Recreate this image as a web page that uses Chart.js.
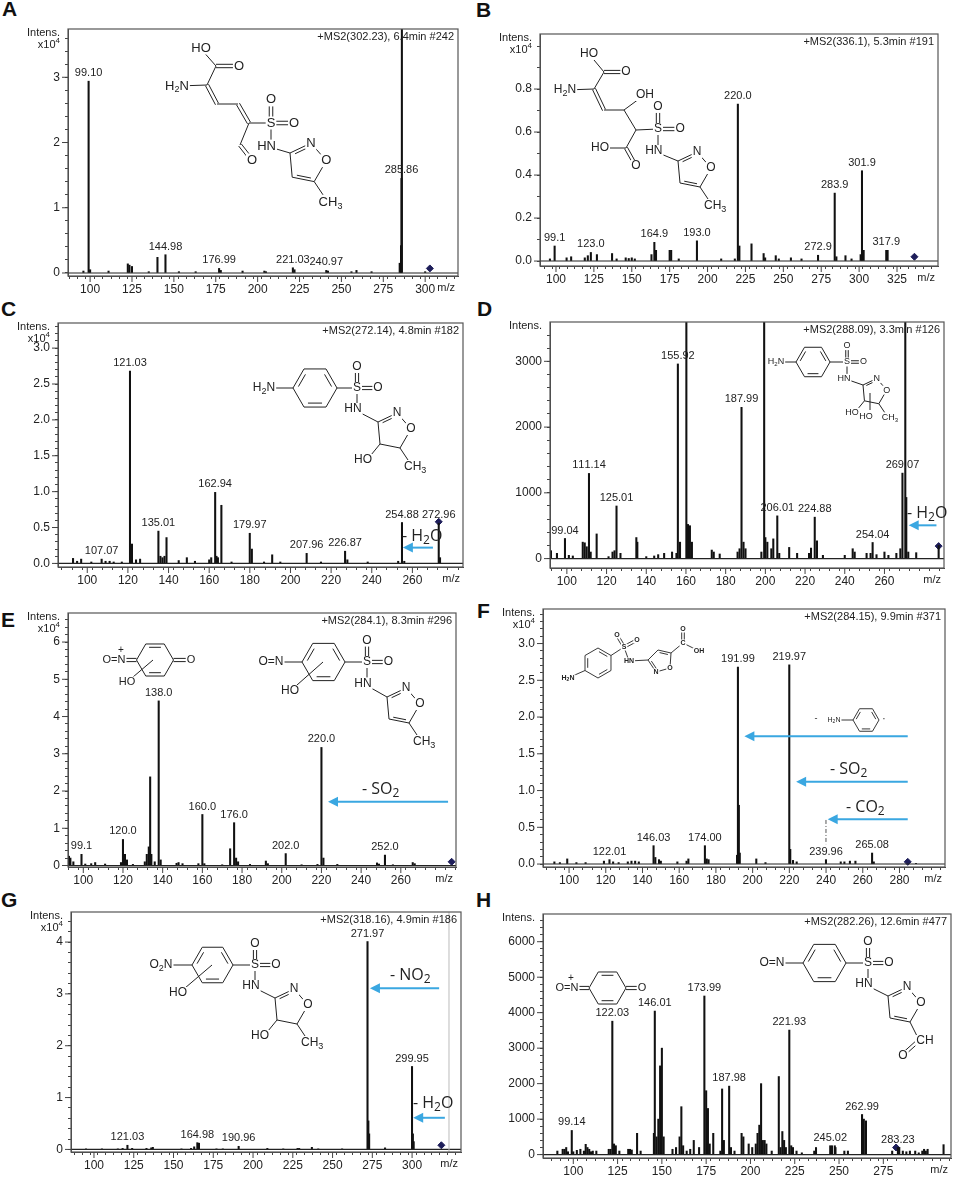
<!DOCTYPE html>
<html>
<head>
<meta charset="utf-8">
<script src="https://cdn.jsdelivr.net/npm/chart.js@4.4.1/dist/chart.umd.min.js"></script>
<style>
  body { margin: 0; background: #fff; width: 962px; height: 1180px; position: relative; overflow: hidden; }
  .p { position: absolute; width: 481px; height: 295px; }
  .lt { position: absolute; font: bold 21px "Liberation Sans", Arial, sans-serif; line-height: 1; color: #111; }
</style>
</head>
<body>
<div class="lt" style="left:2px;top:-2px">A</div>
<div class="lt" style="left:476px;top:-1px">B</div>
<div class="lt" style="left:1px;top:298px">C</div>
<div class="lt" style="left:477px;top:298px">D</div>
<div class="lt" style="left:1px;top:609px">E</div>
<div class="lt" style="left:477px;top:600px">F</div>
<div class="lt" style="left:1px;top:889px">G</div>
<div class="lt" style="left:476px;top:889px">H</div>
<script>
// ---- spectra: [m/z, intensity] (A,B,C,E,F,G in x10^4, D and H in counts)
const specA = [[96,0.03],[99.10,2.94],[100,0.05],[111,0.03],[122.5,0.14],[123.5,0.12],[125,0.1],[135,0.02],[140.2,0.24],[144.98,0.28],
  [153,0.02],[163,0.02],[176.99,0.07],[178,0.04],[191,0.03],[204,0.03],[205,0.02],[221.03,0.08],[222,0.05],[240.97,0.04],
  [242,0.03],[256,0.02],[259,0.04],[268,0.02],[284.8,0.15],[285.6,0.42],[285.86,1.45],[286.1,4.0],[300,0.02]];
const specB = [[96,0.01],[99.1,0.07],[107,0.015],[110,0.02],[119,0.015],[121,0.025],[123.0,0.04],[127,0.03],[137,0.035],[140,0.01],
  [146,0.015],[148,0.012],[150,0.015],[152,0.01],[163,0.03],[164.9,0.087],[166,0.05],[175,0.05],[176,0.05],[181,0.01],
  [193.0,0.094],[209,0.01],[218,0.01],[220.0,0.73],[221,0.07],[229,0.08],[237,0.035],[238,0.015],[245,0.025],[247,0.01],
  [255,0.015],[262,0.01],[272.9,0.027],[283.9,0.316],[285,0.02],[291,0.025],[295,0.01],[301,0.03],[301.9,0.42],[303,0.05],
  [317.9,0.05],[318.8,0.05]];
const specC = [[93,0.07],[95,0.03],[97,0.06],[102,0.02],[107.07,0.06],[109,0.03],[111,0.03],[113,0.02],[117,0.02],[121.03,2.68],
  [122,0.27],[124,0.05],[126,0.06],[135.01,0.45],[136,0.1],[137,0.08],[138,0.1],[139,0.36],[145,0.04],[149,0.08],
  [153,0.03],[160,0.05],[161,0.08],[162.94,0.99],[163.6,0.1],[164.3,0.08],[166,0.81],[171,0.02],[179.97,0.42],[181,0.2],
  [187,0.02],[191,0.12],[195,0.02],[207.96,0.14],[215,0.02],[226.87,0.17],[228,0.05],[238,0.02],[253,0.03],[254.88,0.57],
  [256,0.03],[272.96,0.56],[273.6,0.08]];
const specD = [[92,120],[95,80],[99.04,306],[101,50],[103,40],[108,250],[109,240],[110,180],[111.14,1295],[112,100],
  [115,375],[121,30],[123,100],[124,120],[125.01,800],[127,80],[135,320],[135.5,250],[140,30],[144,40],
  [146,60],[149,80],[153,100],[155.2,80],[155.92,2960],[157,250],[160.2,4000],[161,520],[162,500],[163,250],
  [173,130],[174,100],[177,70],[186,100],[187,150],[187.99,2300],[189,250],[190,150],[198,100],[199.4,4000],
  [200,320],[201,250],[203,150],[204,300],[206.01,650],[207,80],[212,170],[216,80],[222,80],[223,160],
  [224.88,630],[226,270],[229,50],[240,50],[244,150],[245,100],[251,80],[253,80],[254.04,245],[256,60],
  [260,100],[262,50],[266,80],[268,150],[269.07,1300],[270.5,4000],[271,930],[272,100],[276,90],[287.3,200]];
const specE = [[92.8,0.25],[93.5,0.2],[95,0.1],[99.1,0.3],[101,0.04],[104,0.05],[106,0.08],[111,0.04],[119,0.08],[120.0,0.70],
  [121,0.3],[122,0.15],[125,0.03],[131,0.1],[132,0.3],[133,0.5],[133.7,2.38],[134.3,0.3],[136,0.1],[138.0,4.42],
  [139,0.15],[147,0.06],[148,0.08],[150,0.05],[158,0.05],[160.0,1.37],[161,0.05],[170,0.02],[174,0.45],[176.0,1.15],
  [177,0.2],[178,0.1],[184,0.03],[192,0.12],[193,0.05],[202.0,0.32],[210,0.02],[218,0.03],[220.0,3.17],[221,0.2],
  [228,0.03],[248,0.07],[249,0.04],[252.0,0.28],[256,0.02],[266,0.08],[267,0.05]];
const specF = [[92,0.03],[95,0.02],[99,0.07],[104,0.02],[109,0.02],[119,0.04],[122.01,0.06],[124,0.03],[127,0.02],[132,0.03],
  [134,0.04],[136,0.04],[138,0.03],[146.03,0.25],[147,0.09],[149,0.06],[150,0.04],[159,0.03],[164,0.04],[165,0.07],
  [174.00,0.25],[175,0.07],[176,0.06],[191.5,0.12],[191.99,2.68],[192.5,0.8],[193,0.15],[202,0.07],[207,0.02],[219.97,2.71],
  [220.5,0.2],[222,0.05],[224,0.03],[239.96,0.06],[248,0.03],[250,0.03],[253,0.04],[256,0.04],[265.08,0.15],[266,0.03],
  [289,0.01]];
const specG = [[95,0.01],[105,0.01],[115,0.01],[118,0.02],[121.03,0.08],[124,0.02],[133,0.02],[136,0.03],[137,0.04],[155,0.01],
  [161,0.02],[163,0.05],[164.98,0.13],[166,0.12],[177,0.01],[181,0.01],[190.96,0.06],[209,0.02],[219,0.01],[228,0.02],
  [229,0.02],[237,0.04],[241,0.01],[256,0.01],[271.97,4.01],[272.5,0.55],[273,0.3],[283,0.03],[299.95,1.6],[300.5,0.3],
  [301,0.15]];
const specH = [[91,100],[94,150],[95,150],[96,200],[97,80],[99.14,680],[100,80],[102,120],[104,150],[106,100],
  [107,290],[108,200],[109,150],[110,80],[111,100],[113,100],[120,150],[121,150],[122.03,3760],[123,300],
  [124,250],[126,100],[131,150],[132,150],[133,130],[136,600],[138,100],[145.5,600],[146.01,4045],[147,500],
  [148,1000],[149,2500],[150,3000],[151,500],[156,150],[158,200],[160,500],[161,1350],[162,250],[164,100],
  [166,150],[168,400],[171,200],[173.99,4470],[175,1800],[176,1300],[177,300],[179,600],[183,100],[184,1850],
  [185,400],[187.98,1930],[189,200],[191,100],[195,600],[196,500],[199,300],[201,200],[203,300],[204,600],
  [205,830],[206,2000],[207,400],[208,400],[209,300],[212,100],[216,2200],[217,200],[218,650],[219,400],
  [220,200],[221.93,3510],[223,250],[224,200],[226,100],[229,50],[236,100],[237,200],[245.02,250],[246,250],
  [247.6,250],[248,200],[253,100],[255,100],[262.99,1130],[264,1000],[265.2,950],[280,100],[283.23,200],[284,200],
  [286,100],[288,80],[290,100],[293,100],[295,50],[297,100],[298,150],[299,100],[300,150],[309,280]];

// ---- peak labels
const labA = ['99.10','144.98','176.99','221.03','240.97','285.86'];
const labB = ['99.1','123.0','164.9','193.0','220.0','272.9','283.9','301.9','317.9'];
const labC = ['107.07','121.03','135.01','162.94','179.97','207.96','226.87','254.88','272.96'];
const labD = ['99.04','111.14','125.01','155.92','187.99','206.01','224.88','254.04','269.07'];
const labE = ['99.1','120.0','138.0','160.0','176.0','202.0','220.0','252.0'];
const labF = ['122.01','146.03','174.00','191.99','219.97','239.96','265.08'];
const labG = ['121.03','164.98','190.96','271.97','299.95'];
const labH = ['99.14','122.03','146.01','173.99','187.98','221.93','245.02','262.99','283.23'];

// ---- precursor markers
const precA = [302.8, 0.07], precB = [336.5, 0.02], precC = [272.96, 0.58], precD = [287.3, 190];
const precE = [285.6, 0.1], precF = [284.5, 0.03], precG = [318.4, 0.08], precH = [282.2, 200];

// ---- tick labels
const xTicksA = [100,125,150,175,200,225,250,275,300];
const xTicksB = [100,125,150,175,200,225,250,275,300,325];
const xTicksC = [100,120,140,160,180,200,220,240,260];
const xTicksD = [100,120,140,160,180,200,220,240,260];
const xTicksE = [100,120,140,160,180,200,220,240,260];
const xTicksF = [100,120,140,160,180,200,220,240,260,280];
const xTicksG = [100,125,150,175,200,225,250,275,300];
const xTicksH = [100,125,150,175,200,225,250,275];
const yTicksA = [0,1,2,3];
const yTicksB = [0,0.2,0.4,0.6,0.8];
const yTicksC = [0,0.5,1,1.5,2,2.5,3];
const yTicksD = [0,1000,2000,3000];
const yTicksE = [0,1,2,3,4,5,6];
const yTicksF = [0,0.5,1,1.5,2,2.5,3];
const yTicksG = [0,1,2,3,4];
const yTicksH = [0,1000,2000,3000,4000,5000,6000];

const titles = ['+MS2(302.23), 6.4min #242','+MS2(336.1), 5.3min #191','+MS2(272.14), 4.8min #182','+MS2(288.09), 3.3min #126',
  '+MS2(284.1), 8.3min #296','+MS2(284.15), 9.9min #371','+MS2(318.16), 4.9min #186','+MS2(282.26), 12.6min #477'];

const FONT = '"Liberation Sans", Arial, sans-serif';
const ANN = '"Open Sans", "Liberation Sans", sans-serif';
const BLUE = '#3aa7e1';
const INK = '#222';

// ---- drawing helpers
function ln(c, a, b) { c.beginPath(); c.moveTo(a[0], a[1]); c.lineTo(b[0], b[1]); c.stroke(); }
function dbl(c, a, b, o) {
  const dx = b[0]-a[0], dy = b[1]-a[1], l = Math.hypot(dx, dy), nx = -dy/l*o, ny = dx/l*o;
  ln(c, [a[0]+nx, a[1]+ny], [b[0]+nx, b[1]+ny]); ln(c, [a[0]-nx, a[1]-ny], [b[0]-nx, b[1]-ny]);
}
function inner(c, a, b, ctr, o) {
  const mx = (a[0]+b[0])/2, my = (a[1]+b[1])/2;
  let dx = ctr[0]-mx, dy = ctr[1]-my; const l = Math.hypot(dx, dy); dx = dx/l*o; dy = dy/l*o;
  const s = 0.18, ex = b[0]-a[0], ey = b[1]-a[1];
  ln(c, [a[0]+ex*s+dx, a[1]+ey*s+dy], [b[0]-ex*s+dx, b[1]-ey*s+dy]);
}
function hex(c, cx, cy, r, rot, dbls) {
  const v = [];
  for (let k = 0; k < 6; k++) { const a = (rot + 60*k) * Math.PI/180; v.push([cx + r*Math.cos(a), cy + r*Math.sin(a)]); }
  for (let k = 0; k < 6; k++) ln(c, v[k], v[(k+1)%6]);
  dbls.forEach(k => inner(c, v[k], v[(k+1)%6], [cx, cy], r*0.18));
  return v;
}
function chem(c, s, x, y, size, align, bg, fam, wt) {
  fam = fam || FONT;
  const parts = [];
  for (let i = 0; i < s.length; i++) {
    const ch = s[i];
    if (ch === '_' && i+1 < s.length) parts.push({t: s[++i], k: 1});
    else if (ch === '^' && i+1 < s.length) parts.push({t: s[++i], k: 2});
    else parts.push({t: ch, k: 0});
  }
  let w = 0;
  parts.forEach(p => { p.f = (wt ? wt + ' ' : '') + (p.k ? Math.round(size*0.72) : size) + 'px ' + fam; c.font = p.f; p.w = c.measureText(p.t).width; w += p.w; });
  let x0 = align === 'left' ? x : align === 'right' ? x - w : x - w/2;
  if (bg) { c.fillStyle = '#fff'; c.fillRect(x0-1, y-size*0.5, w+2, size); }
  c.fillStyle = INK; c.textBaseline = 'middle'; c.textAlign = 'left';
  parts.forEach(p => { c.font = p.f; c.fillText(p.t, x0, y + (p.k === 1 ? size*0.3 : p.k === 2 ? -size*0.38 : 0)); x0 += p.w; });
}
let Q = [];
function at(s, x, y, fs, al, wt) { Q.push([s, x, y, fs, al || 'center', wt]); }
function flush(c) { Q.forEach(q => chem(c, q[0], q[1], q[2], q[3], q[4], true, FONT, q[5])); Q = []; }
function sulf(c, S, k, fs) {
  const Ou = [S[0], S[1]-21*k], Or = [S[0]+21*k, S[1]], HN = [S[0]-4*k, S[1]+21*k];
  dbl(c, S, Ou, 1.6*k); dbl(c, S, Or, 1.6*k); ln(c, S, [S[0], HN[1]]);
  at('S', S[0], S[1], fs); at('O', Ou[0], Ou[1], fs); at('O', Or[0], Or[1], fs); at('HN', HN[0], HN[1], fs);
  return HN;
}
function isox(c, p, k, fs, opt) {
  const P = (dx, dy) => [p[0]+dx*k, p[1]+dy*k];
  const N = P(19,-9), O = P(33,7), C5 = P(22,26), C4 = P(2,22), m = P(16,8);
  ln(c, p, N); inner(c, p, N, m, 2.6*k); ln(c, N, O); ln(c, O, C5); ln(c, C5, C4); ln(c, C4, p);
  if (opt.arom) inner(c, C5, C4, m, 2.6*k);
  at('N', N[0], N[1], fs); at('O', O[0], O[1], fs);
  if (opt.me) { ln(c, C5, P(30,38)); at('CH_3', C5[0]+4*k, C5[1]+19*k, fs, 'left'); }
  if (opt.oh) { ln(c, C4, P(-7,33)); at('HO', C4[0]-8*k, C4[1]+16*k, fs, 'right'); }
  return {N, O, C5, C4};
}
function arrow(c, x1, x2, y) {
  c.strokeStyle = BLUE; c.fillStyle = BLUE; c.lineWidth = 2;
  ln(c, [x1, y], [x2+8, y]);
  c.beginPath(); c.moveTo(x2, y); c.lineTo(x2+10, y-5); c.lineTo(x2+10, y+5); c.closePath(); c.fill();
}

// ---- structures (panel pixel coordinates)
function structA(c) {
  const fs = 13, k = 1.1;
  const Cc = [216,66], Ca = [207,85], C3 = [217,104], C4 = [238,104], C5 = [249,123], S = [271,123], Cal = [240,145], R = [290,153];
  ln(c, [201,49], Cc); dbl(c, Cc, [238,66], 1.7); ln(c, Cc, Ca); ln(c, Ca, [178,86]);
  dbl(c, Ca, C3, 1.7); ln(c, C3, C4); dbl(c, C4, C5, 1.7); ln(c, C5, S);
  const HN = sulf(c, S, k, fs); ln(c, HN, R); ln(c, C5, Cal); dbl(c, Cal, [251,159], 1.7);
  isox(c, R, k, fs, {arom: 1, me: 1});
  at('HO', 201, 48, fs); at('O', 239, 66, fs); at('H_2N', 177, 86, fs); at('O', 252, 160, fs);
  flush(c);
}
function structB(c) {
  const fs = 12, k = 1.05;
  const Cc = [123,72], Ca = [113,89], Cb = [123,110], Cc2 = [143,110], Cd = [155,130], S = [177,129], Ce = [145,148], R = [197,161];
  ln(c, [108,54], Cc); dbl(c, Cc, [145,72], 1.6); ln(c, Cc, Ca); ln(c, Ca, [84,90]); dbl(c, Ca, Cb, 1.6);
  ln(c, Cb, Cc2); ln(c, Cc2, [162,96]); ln(c, Cc2, Cd); ln(c, Cd, S); ln(c, Cd, Ce); ln(c, Ce, [119,148]); dbl(c, Ce, [155,166], 1.6);
  const HN = sulf(c, S, k, fs); ln(c, HN, R); isox(c, R, 1, fs, {arom: 1, me: 1});
  at('HO', 108, 54, fs); at('O', 145, 72, fs); at('H_2N', 84, 90, fs); at('OH', 164, 95, fs); at('HO', 119, 148, fs); at('O', 155, 166, fs);
  flush(c);
}
function structC(c) {
  const fs = 12;
  const v = hex(c, 315, 93, 22, 0, [1,3,5]);
  ln(c, [264,93], v[3]); ln(c, v[0], [357,93]);
  const HN = sulf(c, [357,93], 1, fs); ln(c, HN, [378,127]);
  isox(c, [378,127], 1, fs, {oh: 1, me: 1});
  at('H_2N', 264, 93, fs);
  flush(c);
}
function structD(c) {
  const fs = 9;
  const v = hex(c, 332, 67, 17, 0, [1,3,5]);
  ln(c, [295,67], v[3]); ln(c, v[0], [366,67]);
  const HN = sulf(c, [366,67], 0.78, fs); ln(c, HN, [382,90]);
  isox(c, [382,90], 0.72, fs, {oh: 1, me: 1});
  ln(c, [389,98], [389,115]); at('HO', 385, 122, fs);
  at('H_2N', 295, 67, fs);
  flush(c);
}
function structE(c) {
  // quinone-like fragment
  let v = hex(c, 155, 70, 18.5, 0, [1,4]);
  dbl(c, [123,70], v[3], 1.6); dbl(c, v[0], [190,70], 1.6); ln(c, [133,87], [153,70]);
  at('O=N', 114, 70, 11); at('+', 121, 60, 10); at('O', 191, 70, 11); at('HO', 127, 92, 11);
  // parent
  v = hex(c, 323.5, 72, 21.5, 0, [1,3,5]);
  ln(c, [271,72], v[3]); ln(c, v[0], [367,72]); ln(c, [297,95], [323,72]);
  const HN = sulf(c, [367,72], 1.02, 12); ln(c, HN, [387,107]);
  isox(c, [387,107], 1, 12, {arom: 1, me: 1});
  at('O=N', 271, 72, 12); at('HO', 290, 101, 12);
  flush(c);
}
function structF(c) {
  const fs = 7, b = 'bold';
  c.lineWidth = 0.9;
  const v = hex(c, 117, 73, 15, -90, [0,2,4]);
  const S = [143,57], C3 = [167,70], N = [175,82], O = [189,78], C5 = [190,63], C4 = [177,60], Cx = [202,53];
  ln(c, v[4], [87,88]); ln(c, v[1], S); dbl(c, S, [136,45], 1.3); dbl(c, S, [156,50], 1.3); ln(c, S, [148,71]); ln(c, [148,71], C3);
  ln(c, C3, N); inner(c, C3, N, [180,71], 2.2); ln(c, N, O); ln(c, O, C5); ln(c, C5, C4); inner(c, C5, C4, [180,71], 2.2); ln(c, C4, C3);
  ln(c, C5, Cx); dbl(c, Cx, [202,39], 1.3); ln(c, Cx, [218,61]);
  at('H_2N', 87, 88, fs, 'center', b); at('S', 143, 57, fs, 'center', b); at('O', 136, 45, fs, 'center', b); at('O', 156, 50, fs, 'center', b);
  at('HN', 148, 71, fs, 'center', b); at('N', 175, 82, fs, 'center', b); at('O', 189, 78, fs, 'center', b); at('C', 202, 53, fs, 'center', b);
  at('O', 202, 39, fs, 'center', b); at('OH', 218, 61, fs, 'center', b);
  // lost fragment icon
  const w = hex(c, 385, 130, 13, 0, [1,3,5]);
  ln(c, [356,130], w[3]);
  at('-', 335, 129, 9); at('H_2N', 353, 130, fs); at('\u00b7', 403, 129, 10);
  flush(c);
}
function structG(c) {
  const fs = 12;
  const v = hex(c, 212.5, 80, 20.5, 0, [1,3,5]);
  ln(c, [161,80], v[3]); ln(c, v[0], [255,80]); ln(c, [185,103], [212,80]);
  const HN = sulf(c, [255,80], 1, fs); ln(c, HN, [275,113]);
  isox(c, [275,113], 1, fs, {oh: 1, me: 1});
  at('O_2N', 161, 80, fs); at('HO', 178, 108, fs);
  flush(c);
}
function structH(c) {
  let v = hex(c, 126.5, 103, 18.5, 0, [1,4]);
  dbl(c, [95,103], v[3], 1.6); dbl(c, v[0], [160,103], 1.6);
  at('O=N', 86, 103, 11); at('+', 90, 93, 10); at('O', 161, 103, 11);
  v = hex(c, 343.5, 78, 21.5, 0, [1,3,5]);
  ln(c, [291,78], v[3]); ln(c, v[0], [387,78]);
  const HN = sulf(c, [387,78], 1, 12); ln(c, HN, [407,111]);
  const r = isox(c, [407,111], 1, 12, {arom: 1});
  ln(c, r.C5, [437,153]); dbl(c, [435,158], [425,167], 1.6);
  at('CH', 444, 156, 12); at('O', 422, 171, 12); at('O=N', 291, 78, 12);
  flush(c);
}

// ---- panels
const panels = [
  {pos:[0,0], fr:[68,29,458,276], x:[86.8,319.6], y:[-0.046,3.74], spec:specA, lab:labA, prec:precA, xt:xTicksA, yt:yTicksA, ys:0.2, yd:0, exp:1, draw:structA},
  {pos:[481,0], fr:[59,34,457,266], x:[89.45,352.05], y:[-0.023,1.056], spec:specB, lab:labB, prec:precB, xt:xTicksB, yt:yTicksB, ys:0.1, yd:1, exp:1, draw:structB},
  {pos:[0,295], fr:[58,28,463,272], x:[85.6,284.9], y:[-0.05,3.35], spec:specC, lab:labC, prec:precC, xt:xTicksC, yt:yTicksC, ys:0.1, yd:1, exp:1, draw:structC,
    arrows:[[270.1,255.3,0.22]], notes:[['- H_2O',402,241]]},
  {pos:[481,295], fr:[69,27,463,273], x:[91.5,290.0], y:[-143,3598], spec:specD, lab:labD, prec:precD, xt:xTicksD, yt:yTicksD, ys:200, yd:0, exp:0, draw:structD,
    arrows:[[286.2,272.2,506]], notes:[['- H_2O',426,218]]},
  {pos:[0,590], fr:[68,23,456,277], x:[92.3,287.8], y:[-0.04,6.78], spec:specE, lab:labE, prec:precE, xt:xTicksE, yt:yTicksE, ys:0.2, yd:0, exp:1, draw:structE,
    arrows:[[283.8,223.3,1.71]], notes:[['- SO_2',362,199]]},
  {pos:[481,590], fr:[62,19,464,277], x:[85.8,304.8], y:[-0.04,3.47], spec:specF, lab:labF, prec:precF, xt:xTicksF, yt:yTicksF, ys:0.1, yd:1, exp:1, draw:structF,
    arrows:[[284.5,195.5,1.74],[284.5,223.7,1.12],[284.5,240.9,0.61]], notes:[['- SO_2',349,179],['- CO_2',365,217]], dash:[239.96,0.6,0.27]},
  {pos:[0,885], fr:[71,27,461,267], x:[85.55,330.75], y:[-0.05,4.58], spec:specG, lab:labG, prec:precG, xt:xTicksG, yt:yTicksG, ys:0.2, yd:0, exp:1, draw:structG,
    arrows:[[317,273.5,3.11],[320.6,300.7,0.61]], notes:[['- NO_2',390,90],['- H_2O',413,218]], vline:323.2},
  {pos:[481,885], fr:[62,29,470,273], x:[82.9,313.2], y:[-96,6781], spec:specH, lab:labH, prec:precH, xt:xTicksH, yt:yTicksH, ys:200, yd:0, exp:0, draw:structH}
];

function tickList(lo, hi, step, majors) {
  const out = new Set(majors.filter(v => v >= lo && v <= hi));
  for (let i = Math.ceil(lo/step - 1e-9); i*step <= hi + 1e-9; i++) out.add(Math.round(i*step*1e6)/1e6);
  return [...out].sort((a, b) => a - b);
}

panels.forEach((P, idx) => {
  const div = document.createElement('div');
  div.className = 'p'; div.style.left = P.pos[0] + 'px'; div.style.top = P.pos[1] + 'px';
  const cv = document.createElement('canvas'); cv.width = 481; cv.height = 295;
  div.appendChild(cv); document.body.appendChild(div);
  const [L, T, R, B] = P.fr;
  const xTicks = tickList(Math.ceil(P.x[0]), P.x[1], 5, P.xt);
  const yTicks = tickList(0, P.y[1], P.ys, P.yt);

  const deco = {
    id: 'deco',
    afterDatasetsDraw(chart) {
      const c = chart.ctx, a = chart.chartArea, xs = chart.scales.x, ys = chart.scales.y;
      c.save();
      c.strokeStyle = INK; c.lineWidth = 1.1;
      const y0 = ys.getPixelForValue(0);
      ln(c, [a.left, y0], [a.right, y0]);
      if (P.vline) { c.strokeStyle = '#bbb'; c.lineWidth = 1; const vx = xs.getPixelForValue(P.vline); ln(c, [vx, a.top], [vx, a.bottom]); }
      c.strokeStyle = '#555'; c.lineWidth = 1.2;
      c.strokeRect(a.left, a.top, a.right - a.left, a.bottom - a.top);
      // longer marks on the labelled ticks
      c.strokeStyle = '#444'; c.lineWidth = 1;
      P.xt.forEach(v => { if (v >= P.x[0] && v <= P.x[1]) { const px = xs.getPixelForValue(v); ln(c, [px, a.bottom], [px, a.bottom + 6]); } });
      P.yt.forEach(v => { const py = ys.getPixelForValue(v); ln(c, [a.left - 6, py], [a.left, py]); });
      chem(c, titles[idx], a.right - 4, a.top + 8, 11, 'right');
      chem(c, 'Intens.', a.left - 8, a.top + 4, 11, 'right');
      if (P.exp) chem(c, 'x10^4', a.left - 8, a.top + 16, 11, 'right');
      chem(c, 'm/z', a.right - 3, a.bottom + 12, 11, 'right');
      P.lab.forEach(t => {
        const v = parseFloat(t);
        const pk = P.spec.find(p => Math.abs(p[0] - v) < 1e-6);
        if (!pk) return;
        chem(c, t, xs.getPixelForValue(v), ys.getPixelForValue(pk[1]) - 8, 11, 'center');
      });
      if (P.dash) {
        c.strokeStyle = '#555'; c.lineWidth = 1; c.setLineDash([4,2,1,2]);
        const dx = xs.getPixelForValue(P.dash[0]);
        ln(c, [dx, ys.getPixelForValue(P.dash[1])], [dx, ys.getPixelForValue(P.dash[2])]);
        c.setLineDash([]);
      }
      (P.arrows || []).forEach(r => arrow(c, xs.getPixelForValue(r[0]), xs.getPixelForValue(r[1]), ys.getPixelForValue(r[2])));
      (P.notes || []).forEach(n => chem(c, n[0], n[1], n[2], 16, 'left', false, ANN));
      c.strokeStyle = INK; c.lineWidth = 1;
      P.draw(c);
      c.restore();
    }
  };

  new Chart(cv, {
    type: 'bar',
    data: {
      datasets: [
        { data: P.spec.map(p => ({x: p[0], y: p[1]})), backgroundColor: '#111', borderWidth: 0, barThickness: 1.4, grouped: false },
        { type: 'scatter', data: [{x: P.prec[0], y: P.prec[1]}], pointStyle: 'rectRot', pointRadius: 3.5, backgroundColor: '#1e1e5a', borderColor: '#1e1e5a' }
      ]
    },
    options: {
      responsive: false, animation: false, events: [],
      layout: { padding: { left: 0, top: T, right: 481 - R, bottom: 0 } },
      plugins: { legend: { display: false }, tooltip: { enabled: false } },
      scales: {
        x: {
          type: 'linear', min: P.x[0], max: P.x[1], offset: false,
          afterBuildTicks: s => { s.ticks = xTicks.map(v => ({value: v})); },
          afterFit: s => { s.height = 295 - B; s.paddingLeft = 0; s.paddingRight = 0; },
          ticks: { autoSkip: false, maxRotation: 0, padding: 3, color: INK, font: { size: 12, family: FONT },
            callback: v => P.xt.includes(v) ? String(v) : '' },
          grid: { drawOnChartArea: false, tickLength: 3, color: '#444' },
          border: { color: '#444' }
        },
        y: {
          min: P.y[0], max: P.y[1],
          afterBuildTicks: s => { s.ticks = yTicks.map(v => ({value: v})); },
          afterFit: s => { s.width = L; s.paddingTop = 0; s.paddingBottom = 0; },
          ticks: { autoSkip: false, padding: 5, color: INK, font: { size: 12, family: FONT },
            callback: v => P.yt.includes(v) ? v.toFixed(P.yd) : '' },
          grid: { drawOnChartArea: false, tickLength: 3, color: '#444' },
          border: { color: '#444' }
        }
      }
    },
    plugins: [deco]
  });
});
</script>
</body>
</html>
